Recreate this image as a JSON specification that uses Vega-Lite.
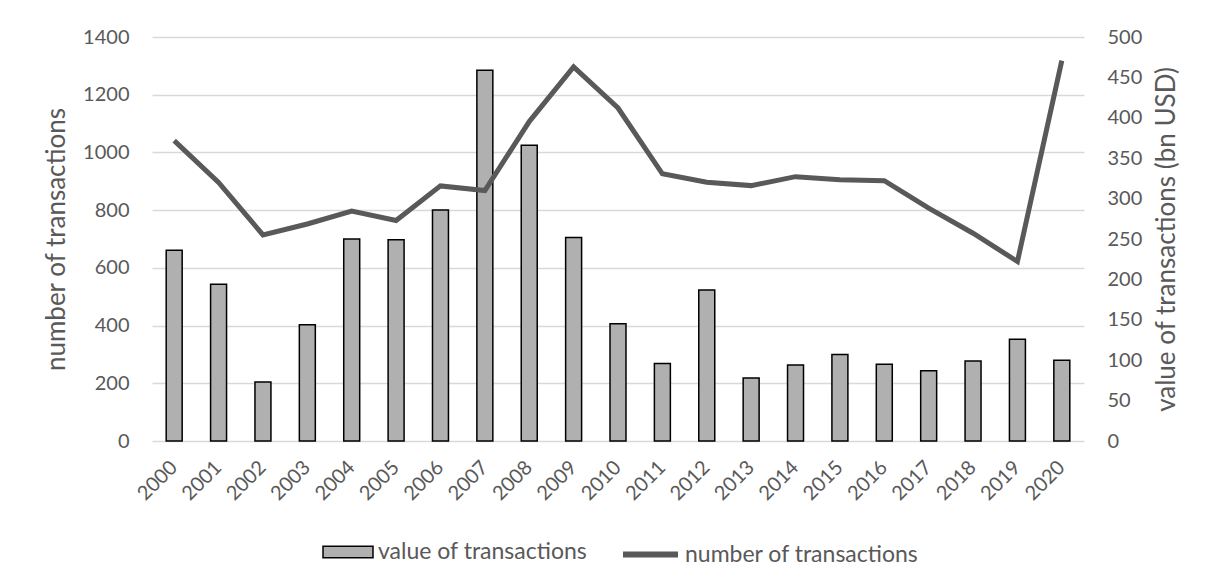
{
  "$schema": "https://vega.github.io/schema/vega-lite/v6.json",
  "width": 932,
  "height": 404,
  "autosize": {"type": "none"},
  "padding": {"left": 152, "top": 37, "right": 128, "bottom": 147},
  "background": "white",
  "config": {
    "view": {"stroke": null},
    "font": "Lato",
    "axis": {
      "labelColor": "#595959",
      "titleColor": "#595959",
      "labelFontSize": 20,
      "titleFontSize": 26,
      "titleFontWeight": "normal",
      "domain": false,
      "ticks": false,
      "gridColor": "#d9d9d9",
      "gridWidth": 1.5
    },
    "legend": {"labelColor": "#595959", "labelFontSize": 23, "orient": "none", "direction": "horizontal", "labelLimit": 0}
  },
  "data": {
    "values": [
      {"year": "2000", "value": 236, "number": 1041},
      {"year": "2001", "value": 194, "number": 896},
      {"year": "2002", "value": 73, "number": 714},
      {"year": "2003", "value": 144, "number": 752},
      {"year": "2004", "value": 250, "number": 797},
      {"year": "2005", "value": 249, "number": 764},
      {"year": "2006", "value": 286, "number": 884},
      {"year": "2007", "value": 459, "number": 868},
      {"year": "2008", "value": 366, "number": 1107},
      {"year": "2009", "value": 252, "number": 1296},
      {"year": "2010", "value": 145, "number": 1154},
      {"year": "2011", "value": 96, "number": 926},
      {"year": "2012", "value": 187, "number": 897},
      {"year": "2013", "value": 78, "number": 885},
      {"year": "2014", "value": 94, "number": 916},
      {"year": "2015", "value": 107, "number": 905},
      {"year": "2016", "value": 95, "number": 902},
      {"year": "2017", "value": 87, "number": 807},
      {"year": "2018", "value": 99, "number": 720},
      {"year": "2019", "value": 126, "number": 622},
      {"year": "2020", "value": 100, "number": 1318}
    ]
  },
  "layer": [
    {
      "mark": {"type": "bar", "stroke": "#000000", "strokeWidth": 1.5},
      "encoding": {
        "x": {
          "field": "year", "type": "ordinal",
          "scale": {"paddingInner": 0.64, "paddingOuter": 0.32},
          "axis": {"title": null, "labelAngle": -45, "labelAlign": "right", "labelBaseline": "middle", "labelPadding": 23, "grid": false}
        },
        "y": {
          "field": "value", "type": "quantitative",
          "scale": {"domain": [0, 500]},
          "axis": {
            "orient": "right", "grid": false,
            "values": [0, 50, 100, 150, 200, 250, 300, 350, 400, 450, 500],
            "format": "d",
            "labelPadding": 23, "titlePadding": 12, "titleAngle": -90, "titleBaseline": "top",
            "title": "value of transactions (bn USD)"
          }
        },
        "fill": {
          "datum": "value of transactions",
          "scale": {"range": ["#b0b0b0"]},
          "legend": {
            "title": null,
            "legendX": 170, "legendY": 489,
            "symbolType": "M-1,-0.23L1,-0.23L1,0.23L-1,0.23Z",
            "symbolSize": 2500,
            "symbolStrokeColor": "#000000",
            "symbolStrokeWidth": 1.5,
            "labelOffset": 4
          }
        }
      }
    },
    {
      "mark": {"type": "line", "strokeWidth": 5},
      "encoding": {
        "x": {
          "field": "year", "type": "ordinal",
          "axis": {"title": null, "labelAngle": -45, "labelAlign": "right", "labelBaseline": "middle", "labelPadding": 23, "grid": false}
        },
        "y": {
          "field": "number", "type": "quantitative",
          "scale": {"domain": [0, 1400]},
          "axis": {
            "orient": "left", "grid": true,
            "values": [0, 200, 400, 600, 800, 1000, 1200, 1400],
            "format": "d",
            "labelPadding": 23, "titlePadding": 13,
            "title": "number of transactions"
          }
        },
        "stroke": {
          "datum": "number of transactions",
          "scale": {"range": ["#595959"]},
          "legend": {
            "title": null,
            "legendX": 468, "legendY": 487,
            "symbolType": "stroke",
            "symbolSize": 3025,
            "symbolStrokeWidth": 6,
            "labelOffset": 4
          }
        }
      }
    }
  ],
  "resolve": {"scale": {"y": "independent", "fill": "independent", "stroke": "independent"}}
}
